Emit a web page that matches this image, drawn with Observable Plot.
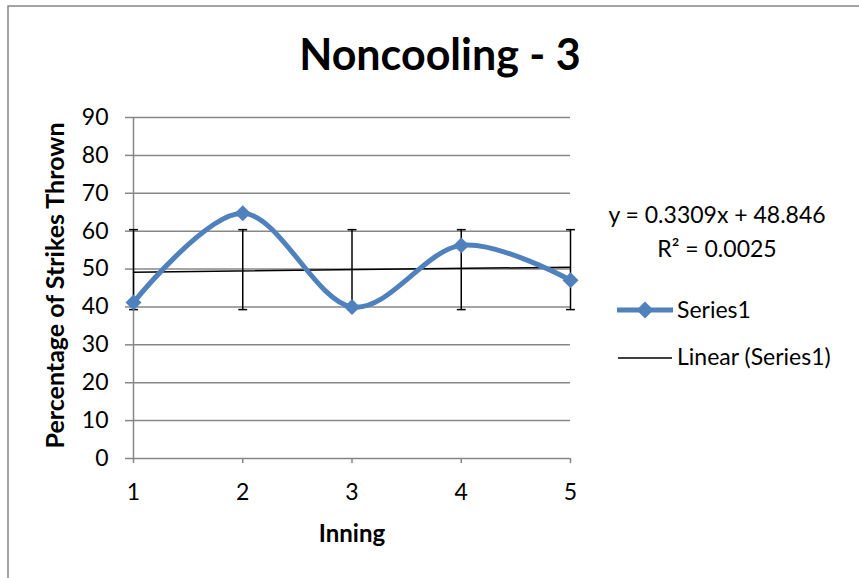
<!DOCTYPE html>
<html><head><meta charset="utf-8">
<script src="https://cdn.jsdelivr.net/npm/d3@7"></script>
<script src="https://cdn.jsdelivr.net/npm/@observablehq/plot@0.6"></script>
<style>
body{margin:0;overflow:hidden;background:#fff;}
#wrap{position:relative;width:859px;height:578px;overflow:hidden;font-family:Lato,sans-serif;}
#wrap svg{position:absolute;left:0;top:0;}
</style></head><body>
<div id="wrap"></div>
<script>
// ---- data ----
const innings = [1, 2, 3, 4, 5];
const strikePct = [41.18, 64.71, 40.00, 56.25, 47.06];
const errLow = [39.3, 39.3, 39.3, 39.3, 39.3];
const errHigh = [60.4, 60.4, 60.4, 60.4, 60.4];
const yTicks = [0, 10, 20, 30, 40, 50, 60, 70, 80, 90];
const trendSlope = 0.3309;
const trendIntercept = 48.846;
const trendRange = [1, 5];
const titleText = "Noncooling - 3";
const xLabel = "Inning";
const yLabel = "Percentage of Strikes Thrown";
const eqText = "y = 0.3309x + 48.846";
const r2Text = "R\u00b2 = 0.0025";
const seriesName = "Series1";
const trendName = "Linear (Series1)";

const data = innings.map((x, i) => ({inning: x, pct: strikePct[i], lo: errLow[i], hi: errHigh[i]}));
const trend = trendRange.map(x => ({inning: x, pct: trendSlope * x + trendIntercept}));

const blue = "#4F81BD";
const grey = "#878787";
const capSymbol = {draw(ctx, size) { const w = Math.sqrt(size) / 2; ctx.moveTo(-w, 0); ctx.lineTo(w, 0); }};

const chart = Plot.plot({
  width: 859, height: 578,
  marginLeft: 133, marginRight: 289, marginTop: 117, marginBottom: 120,
  style: {fontFamily: "Lato, sans-serif", fontSize: "23px", color: "#000", background: "transparent", overflow: "visible"},
  x: {domain: [1, 5]},
  y: {domain: [0, 90]},
  marks: [
    Plot.gridY(yTicks, {stroke: grey, strokeOpacity: 1, strokeWidth: 1.5}),
    Plot.axisY(yTicks, {tickSize: 8, tickPadding: 17, stroke: grey, strokeWidth: 1.5, label: null, fill: "#000"}),
    Plot.ruleX([1], {stroke: grey, strokeWidth: 1.5}),
    Plot.axisX(innings, {tickSize: 5, tickPadding: 20, stroke: grey, strokeWidth: 1.5, label: null, fill: "#000", tickFormat: d => String(d)}),
    Plot.line(trend, {x: "inning", y: "pct", stroke: "#000", strokeWidth: 1.5}),
    Plot.ruleX(data, {x: "inning", y1: "lo", y2: "hi", stroke: "#000", strokeWidth: 1.5}),
    Plot.dot(data, {x: "inning", y: "lo", symbol: capSymbol, r: 5, stroke: "#000", fill: "none", strokeWidth: 1.5}),
    Plot.dot(data, {x: "inning", y: "hi", symbol: capSymbol, r: 5, stroke: "#000", fill: "none", strokeWidth: 1.5}),
    Plot.line(data, {x: "inning", y: "pct", curve: "cardinal", tension: 0, stroke: blue, strokeWidth: 5}),
    Plot.dot(data, {x: "inning", y: "pct", symbol: "diamond2", r: 7.2, fill: blue, stroke: "none"})
  ]
});
const wrap = document.getElementById("wrap");
wrap.appendChild(chart);

// ---- annotations overlay (titles, equation, legend, border) ----
const ns = "http://www.w3.org/2000/svg";
const ov = document.createElementNS(ns, "svg");
ov.setAttribute("width", 859); ov.setAttribute("height", 578);
ov.style.pointerEvents = "none";
function el(tag, attrs, text) {
  const e = document.createElementNS(ns, tag);
  for (const k in attrs) e.setAttribute(k, attrs[k]);
  if (text != null) e.textContent = text;
  ov.appendChild(e);
  return e;
}
el("path", {d: "M8,580 L8,6 L862,6", fill: "none", stroke: grey, "stroke-width": 1.5});
el("text", {x: 440, y: 70, "text-anchor": "middle", "font-family": "Lato, sans-serif", "font-weight": "bold", "font-size": 43}, titleText);
el("text", {transform: "translate(64,285.5) rotate(-90)", "text-anchor": "middle", "font-family": "Lato, sans-serif", "font-weight": "bold", "font-size": 25}, yLabel);
el("text", {x: 352, y: 542, "text-anchor": "middle", "font-family": "Lato, sans-serif", "font-weight": "bold", "font-size": 24}, xLabel);
el("text", {x: 717, y: 223, "text-anchor": "middle", "font-family": "Lato, sans-serif", "font-size": 23}, eqText);
el("text", {x: 717, y: 257, "text-anchor": "middle", "font-family": "Lato, sans-serif", "font-size": 23}, r2Text);
el("line", {x1: 617, x2: 673, y1: 310, y2: 310, stroke: blue, "stroke-width": 5});
el("path", {d: "M645,301.5 L653.5,310 L645,318.5 L636.5,310Z", fill: blue});
el("text", {x: 677, y: 318, "font-family": "Lato, sans-serif", "font-size": 23}, seriesName);
el("line", {x1: 618, x2: 672, y1: 358, y2: 358, stroke: "#000", "stroke-width": 1.5});
el("text", {x: 677, y: 365, "font-family": "Lato, sans-serif", "font-size": 23}, trendName);
wrap.appendChild(ov);
</script>
</body></html>
